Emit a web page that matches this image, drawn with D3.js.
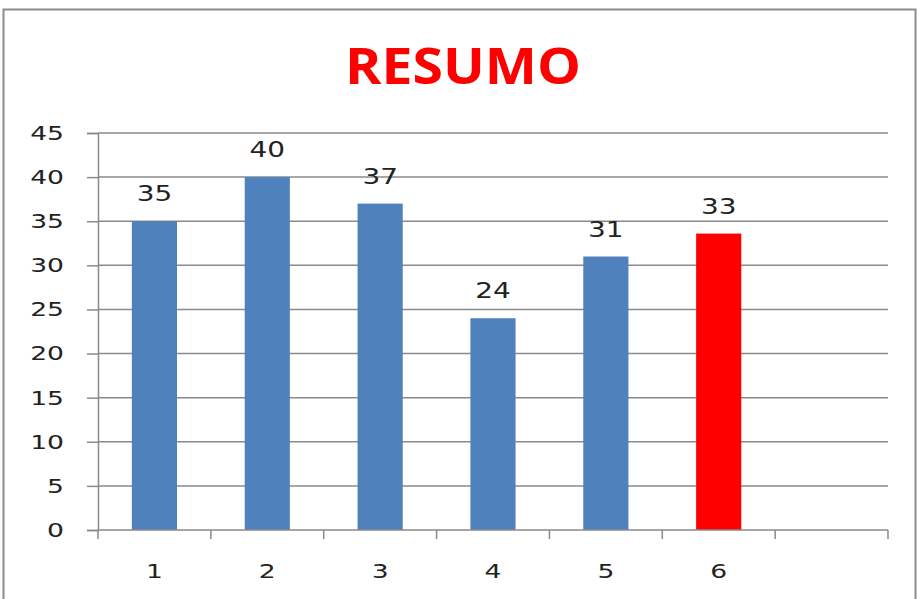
<!DOCTYPE html>
<html>
<head>
<meta charset="utf-8">
<script src="https://cdn.jsdelivr.net/npm/d3@7"></script>
<style>
  body { margin: 0; background: #fff; }
  svg text { font-family: "DejaVu Sans", Verdana, sans-serif; }
</style>
</head>
<body>
<div class="chart"></div>
<script>
// data
const categories = ["1", "2", "3", "4", "5", "6", ""];
const values = [35, 40, 37, 24, 31, 33.6];
const labels = ["35", "40", "37", "24", "31", "33"];
const barColors = ["#4f81bd", "#4f81bd", "#4f81bd", "#4f81bd", "#4f81bd", "#ff0000"];
const yTicks = [0, 5, 10, 15, 20, 25, 30, 35, 40, 45];

let outWidth = 918, outHeight = 599;
let margin = {top: 133, right: 30, left: 98, bottom: 69};
let width = outWidth - margin.left - margin.right,
    height = outHeight - margin.top - margin.bottom;
let stretchX = 1.33; // the source image is stretched sideways

// move x/y into a transform so the glyphs can be widened
function stretch(sel) {
  sel.each(function() {
    const t = d3.select(this);
    const x = +t.attr("x") || 0, y = +t.attr("y") || 0;
    t.attr("x", 0).attr("y", 0)
      .attr("transform", `translate(${x},${y}) scale(${stretchX},1)`);
  });
}

const svg = d3.select(".chart").append("svg")
  .attr("width", outWidth)
  .attr("height", outHeight);

// outer frame
svg.append("rect")
  .attr("x", 3.5).attr("y", 9.5)
  .attr("width", 912).attr("height", 620)
  .attr("fill", "none")
  .attr("stroke", "#8c8c8c")
  .attr("stroke-width", 2);

svg.append("text")
  .attr("x", 463).attr("y", 84)
  .attr("text-anchor", "middle")
  .attr("fill", "#ff0000")
  .style("font-family", "'Open Sans', sans-serif")
  .style("font-weight", "bold")
  .style("font-size", "50px")
  .attr("textLength", 236)
  .attr("lengthAdjust", "spacingAndGlyphs")
  .text("RESUMO");

const g = svg.append("g")
  .attr("transform", `translate(${margin.left}, ${margin.top})`);

let xScale = d3.scaleBand()
  .domain(d3.range(categories.length))
  .range([0, width]);
let yScale = d3.scaleLinear()
  .domain([0, 45])
  .range([height, 0]);

// gridlines
g.selectAll(".grid")
  .data(yTicks.filter(d => d > 0))
  .enter().append("line")
  .attr("class", "grid")
  .attr("x1", 0).attr("x2", width)
  .attr("y1", d => yScale(d)).attr("y2", d => yScale(d))
  .attr("stroke", "#8a8a8a")
  .attr("stroke-width", 1.5);

// bars
let barW = xScale.bandwidth() / 2.5;
g.selectAll("rect.bar")
  .data(values)
  .enter().append("rect")
  .attr("class", "bar")
  .attr("x", (d, i) => xScale(i) + (xScale.bandwidth() - barW) / 2)
  .attr("y", d => yScale(d))
  .attr("width", barW)
  .attr("height", d => height - yScale(d))
  .attr("fill", (d, i) => barColors[i]);

// value labels
g.selectAll(".val")
  .data(values)
  .enter().append("text")
  .attr("class", "val")
  .attr("x", (d, i) => xScale(i) + xScale.bandwidth() / 2)
  .attr("y", d => yScale(d) - 20)
  .attr("text-anchor", "middle")
  .attr("fill", "#222")
  .style("font-size", "21px")
  .text((d, i) => labels[i])
  .call(stretch);

// y axis
const yAxis = d3.axisLeft(yScale).tickValues(yTicks).tickSize(11).tickPadding(23);
const ya = g.append("g").call(yAxis);
ya.select(".domain").attr("stroke", "#8a8a8a").attr("stroke-width", 1.5);
ya.selectAll(".tick line").attr("stroke", "#8a8a8a").attr("stroke-width", 1.5);
ya.selectAll(".tick text").attr("fill", "#222").style("font-size", "20px")
  .style("font-family", "'DejaVu Sans', sans-serif")
  .call(stretch);

// x axis: ticks at category boundaries
const xa = g.append("g").attr("transform", `translate(0, ${height})`);
xa.append("line")
  .attr("x1", 0).attr("x2", width)
  .attr("stroke", "#8a8a8a").attr("stroke-width", 1.5);
xa.selectAll(".xt")
  .data(d3.range(categories.length + 1))
  .enter().append("line")
  .attr("class", "xt")
  .attr("x1", d => d * xScale.step()).attr("x2", d => d * xScale.step())
  .attr("y1", 0).attr("y2", 9)
  .attr("stroke", "#8a8a8a").attr("stroke-width", 1.5);
xa.selectAll(".xl")
  .data(categories)
  .enter().append("text")
  .attr("class", "xl")
  .attr("x", (d, i) => xScale(i) + xScale.bandwidth() / 2)
  .attr("y", 48)
  .attr("text-anchor", "middle")
  .attr("fill", "#222")
  .style("font-size", "20px")
  .text(d => d)
  .call(stretch);
</script>
</body>
</html>
